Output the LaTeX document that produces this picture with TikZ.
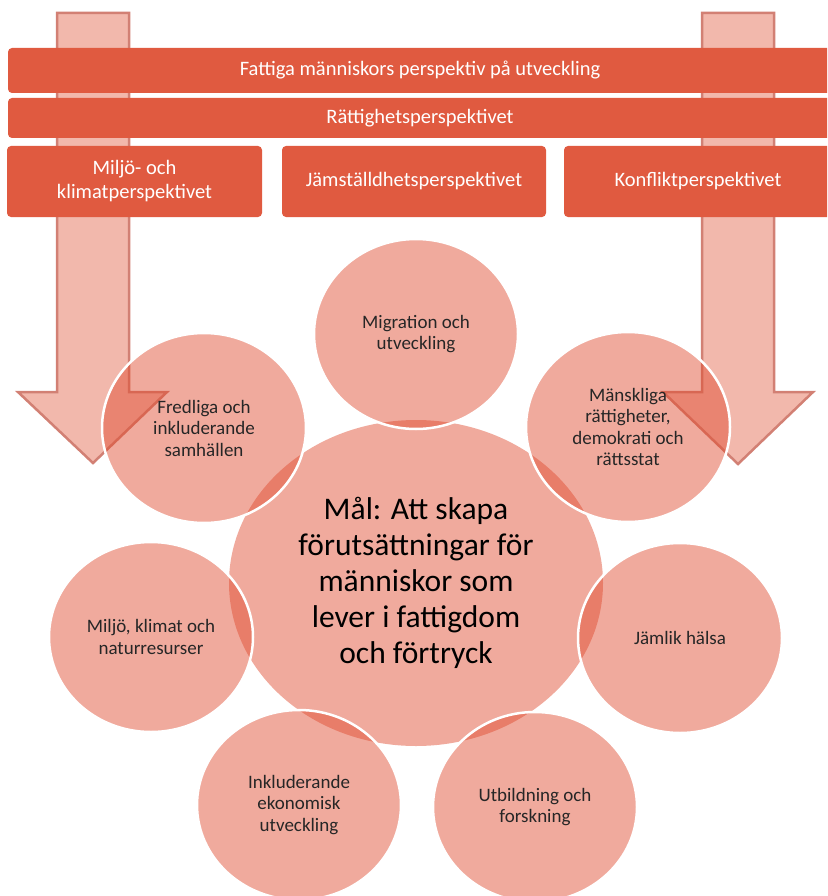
\documentclass[tikz,border=0pt]{standalone}
\usepackage{fontspec}
\setmainfont{Carlito}
\usetikzlibrary{shapes.geometric}

\definecolor{boxred}{RGB}{224,90,64}
\definecolor{pinkbase}{RGB}{223,75,47}
\definecolor{arrowfill}{RGB}{242,184,172}
\definecolor{arrowline}{RGB}{210,128,116}
\definecolor{darktext}{RGB}{38,38,38}

\begin{document}
\begin{tikzpicture}[x=1pt,y=-1pt,
	perbox/.style={fill=boxred,text=white,rounded corners=4pt,align=center,inner sep=0pt,font=\fontsize{20.5}{24}\selectfont},
	topic/.style={ellipse,fill=pinkbase,fill opacity=0.47,text opacity=1,draw=white,draw opacity=1,line width=2.5pt,minimum width=204pt,minimum height=190pt,inner sep=0pt,align=center,text=darktext,font=\fontsize{19}{21.5}\selectfont},
	goal/.style={topic,draw=none,minimum width=374pt,minimum height=326pt,text=black,font=\fontsize{31.5}{36}\selectfont},
	bigarrow/.style={fill=arrowfill,draw=arrowline,line width=2.5pt}]
		\useasboundingbox (0,0) rectangle (827,896);
		\clip (0,0) rectangle (827,896);
		% arrows behind the perspectives:
		\draw[bigarrow] (57,13)--(129,13)--(129,392)--(167,392)--(93,463)--(18,392)--(57,392)--cycle;
		\draw[bigarrow] (702,13)--(774,13)--(774,392)--(813,392)--(738,464)--(663,392)--(702,392)--cycle;
		% perspectives:
		\node[perbox,minimum width=824pt,minimum height=45pt] (poor) at (420,70.5) {Fattiga människors perspektiv på utveckling};
		\node[perbox,minimum width=824pt,minimum height=40pt] (rights) at (420,118) {Rättighetsperspektivet};
		\node[perbox,minimum width=255pt,minimum height=71pt] (env) at (134.5,181.5) {Miljö- och\\klimatperspektivet};
		\node[perbox,minimum width=264pt,minimum height=71pt] (gender) at (414,181.5) {Jämställdhetsperspektivet};
		\node[perbox,minimum width=268pt,minimum height=71pt] (conflict) at (698,181.5) {Konfliktperspektivet};
		% goal and topics:
		\node[goal] (mal) at (416,583) {Mål: Att skapa\\förutsättningar för\\människor som\\lever i fattigdom\\och förtryck};
		\node[topic] (migr) at (416,334) {Migration och\\utveckling};
		\node[topic] (mr) at (628,427) {Mänskliga\\rättigheter,\\demokrati och\\rättsstat};
		\node[topic] (halsa) at (680,638) {Jämlik hälsa};
		\node[topic] (utb) at (535,807) {Utbildning och\\forskning};
		\node[topic] (ekon) at (299,805) {Inkluderande\\ekonomisk\\utveckling};
		\node[topic] (miljo) at (151,637) {Miljö, klimat och\\naturresurser};
		\node[topic] (fred) at (204,428) {Fredliga och\\inkluderande\\samhällen};
\end{tikzpicture}
\end{document}
